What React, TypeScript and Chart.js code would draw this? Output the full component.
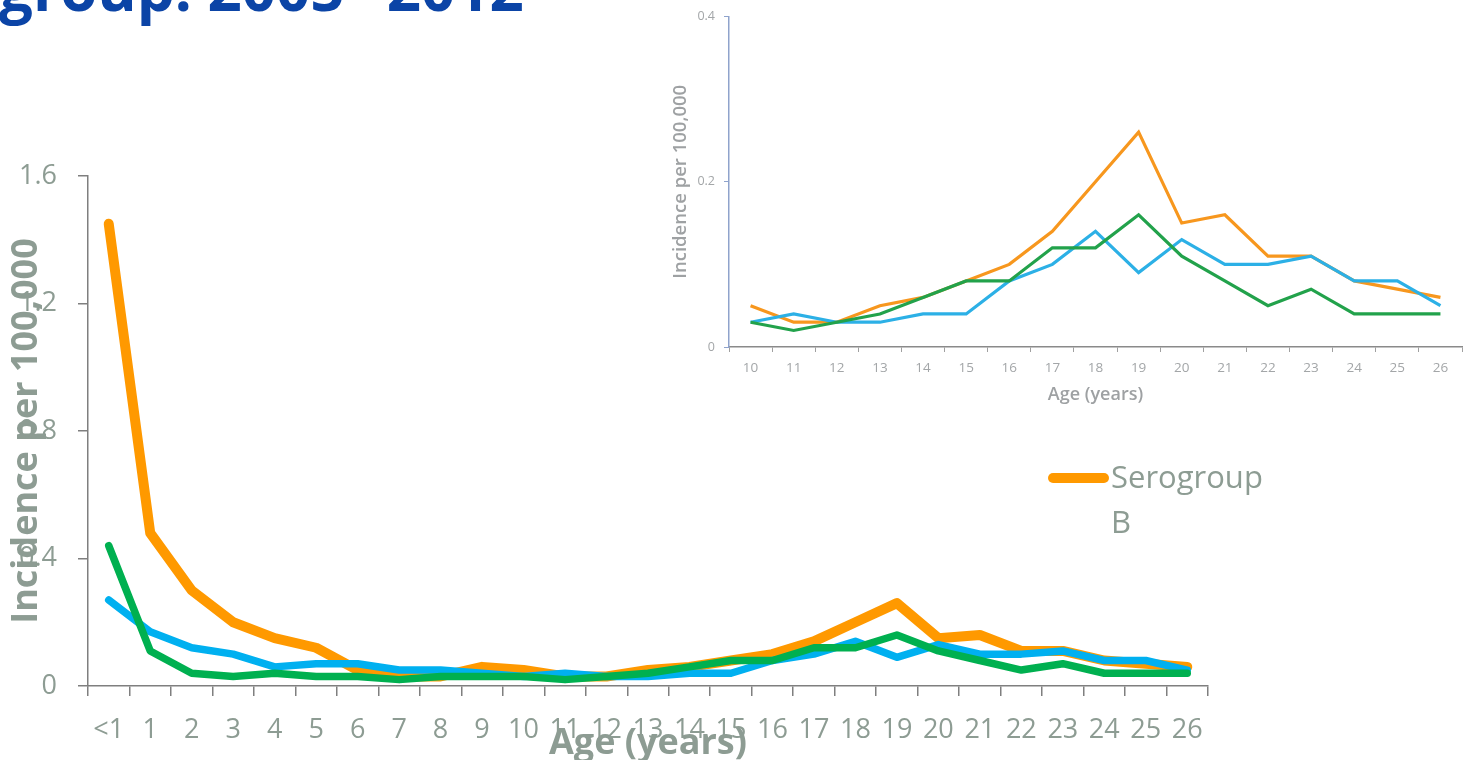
import React, { useEffect, useRef } from 'react';
import { Chart, registerables } from 'chart.js';

Chart.register(...registerables);

// ---------- data ----------
const ageLabels = ['<1', '1', '2', '3', '4', '5', '6', '7', '8', '9', '10', '11', '12', '13', '14', '15', '16', '17', '18', '19', '20', '21', '22', '23', '24', '25', '26'];
const serogroupB = [1.45, 0.48, 0.30, 0.20, 0.15, 0.12, 0.05, 0.03, 0.03, 0.06, 0.05, 0.03, 0.03, 0.05, 0.06, 0.08, 0.10, 0.14, 0.20, 0.26, 0.15, 0.16, 0.11, 0.11, 0.08, 0.07, 0.06];
const serogroupC = [0.27, 0.17, 0.12, 0.10, 0.06, 0.07, 0.07, 0.05, 0.05, 0.04, 0.03, 0.04, 0.03, 0.03, 0.04, 0.04, 0.08, 0.10, 0.14, 0.09, 0.13, 0.10, 0.10, 0.11, 0.08, 0.08, 0.05];
const serogroupY = [0.44, 0.11, 0.04, 0.03, 0.04, 0.03, 0.03, 0.02, 0.03, 0.03, 0.03, 0.02, 0.03, 0.04, 0.06, 0.08, 0.08, 0.12, 0.12, 0.16, 0.11, 0.08, 0.05, 0.07, 0.04, 0.04, 0.04];
const seriesNames = ['Serogroup B', 'Serogroup C', 'Serogroup Y'];
const mainYTicks = [0, 0.4, 0.8, 1.2, 1.6];
const insetStartIndex = 10; // inset shows ages 10..26
const insetYTicks = [0, 0.2, 0.4];
const titleStart = 'group: 2005';
const titleEnd = '2012';
const yTitleText = 'Incidence per 100,000';
const xTitleText = 'Age (years)';
const legendText = 'Serogroup B';

// ---------- styles ----------
const GRAY_TEXT = '#8D9C93';
const AXIS = '#7F7F7F';
const INSET_TEXT = '#A3A6A8';
const FONT = 'Open Sans';

const fmt = (v: number) => (v === 0 ? '0' : Number(v).toFixed(1));

export default function App() {
  const mainRef = useRef<HTMLCanvasElement>(null);
  const insetRef = useRef<HTMLCanvasElement>(null);

  useEffect(() => {
    const main = new Chart(mainRef.current as HTMLCanvasElement, {
      type: 'line',
      data: {
        labels: ageLabels,
        datasets: [
          { label: seriesNames[0], data: serogroupB, borderColor: '#FF9900', borderWidth: 10, order: 2 },
          { label: seriesNames[1], data: serogroupC, borderColor: '#00B0F0', borderWidth: 7.5, order: 1 },
          { label: seriesNames[2], data: serogroupY, borderColor: '#00B050', borderWidth: 7.5, order: 0 },
        ].map((d) => ({ ...d, pointRadius: 0, tension: 0, fill: false, borderCapStyle: 'round', borderJoinStyle: 'round' })) as any,
      },
      options: {
        responsive: false,
        animation: false,
        devicePixelRatio: 1,
        layout: { padding: { top: 176, left: 0, right: 258, bottom: 0 } },
        plugins: { legend: { display: false }, tooltip: { enabled: false } },
        scales: {
          x: {
            type: 'category',
            offset: true,
            grid: { display: true, drawOnChartArea: false, drawTicks: true, tickLength: 10, color: AXIS, lineWidth: 1.5, offset: true },
            border: { display: true, color: AXIS, width: 1.5 },
            ticks: { color: GRAY_TEXT, font: { family: FONT, size: 27 }, padding: 18, maxRotation: 0, autoSkip: false },
            title: { display: true, text: xTitleText, color: GRAY_TEXT, font: { family: FONT, size: 36, weight: 'bold', lineHeight: 0.9 }, padding: 0 },
            afterFit: (s: any) => { s.height = 74; },
          },
          y: {
            min: 0,
            max: 1.6,
            afterBuildTicks: (s: any) => { s.ticks = mainYTicks.map((v) => ({ value: v })); },
            grid: { display: true, drawOnChartArea: false, drawTicks: true, tickLength: 10, color: AXIS, lineWidth: 1.5 },
            border: { display: true, color: AXIS, width: 1.5 },
            ticks: { color: GRAY_TEXT, font: { family: FONT, size: 27 }, padding: 21, callback: (v: any) => fmt(Number(v)) },
            title: { display: true, text: yTitleText, color: GRAY_TEXT, font: { family: FONT, size: 36, weight: 'bold' }, padding: { top: 5, bottom: 0 } },
            afterFit: (s: any) => { s.width = 88; },
          },
        },
      } as any,
    });

    const insetLabels = ageLabels.slice(insetStartIndex);
    const inset = new Chart(insetRef.current as HTMLCanvasElement, {
      type: 'line',
      data: {
        labels: insetLabels,
        datasets: [
          { label: seriesNames[0], data: serogroupB.slice(insetStartIndex), borderColor: '#F7971E', order: 2 },
          { label: seriesNames[1], data: serogroupC.slice(insetStartIndex), borderColor: '#2CB0E6', order: 1 },
          { label: seriesNames[2], data: serogroupY.slice(insetStartIndex), borderColor: '#22A24B', order: 0 },
        ].map((d) => ({ ...d, borderWidth: 3.2, pointRadius: 0, tension: 0, fill: false })) as any,
      },
      options: {
        responsive: false,
        animation: false,
        devicePixelRatio: 1,
        layout: { padding: { top: 12, left: 0, right: 4, bottom: 0 } },
        plugins: { legend: { display: false }, tooltip: { enabled: false } },
        scales: {
          x: {
            type: 'category',
            offset: true,
            grid: { display: true, drawOnChartArea: false, drawTicks: true, tickLength: 5, color: '#A0A0A0', lineWidth: 1, offset: true },
            border: { display: true, color: '#8A8A8A', width: 1.5 },
            ticks: { color: INSET_TEXT, font: { family: FONT, size: 13.5 }, padding: 8, maxRotation: 0, autoSkip: false },
            title: { display: true, text: xTitleText, color: '#9EA1A3', font: { family: FONT, size: 18, weight: '600' }, padding: { top: 0, bottom: 14 } },
            afterFit: (s: any) => { s.height = 73; },
          },
          y: {
            min: 0,
            max: 0.4,
            afterBuildTicks: (s: any) => { s.ticks = insetYTicks.map((v) => ({ value: v })); },
            grid: { display: true, drawOnChartArea: false, drawTicks: true, tickLength: 5, color: '#8FA3CC', lineWidth: 1 },
            border: { display: true, color: '#8FA3CC', width: 1.5 },
            ticks: { color: INSET_TEXT, font: { family: FONT, size: 12.5 }, padding: 9, callback: (v: any) => fmt(Number(v)) },
            title: { display: true, text: yTitleText, color: '#9EA1A3', font: { family: FONT, size: 18.5, weight: '600' }, padding: { top: 10, bottom: 0 } },
            afterFit: (s: any) => { s.width = 69; },
          },
        },
      } as any,
    });

    return () => {
      main.destroy();
      inset.destroy();
    };
  }, []);

  return (
    <div style={{ position: 'fixed', left: 0, top: 0, width: 1466, height: 760, overflow: 'hidden', background: '#ffffff' }}>
      <div
        style={{
          position: 'absolute', left: -1, top: -42, fontFamily: FONT, fontWeight: 'bold', fontSize: 60,
          lineHeight: '60px', color: '#0B44A6', whiteSpace: 'nowrap',
        }}
      >
        {titleStart}
        <span style={{ margin: '0 6px' }}>–</span>
        {titleEnd}
      </div>
      <canvas ref={insetRef} width={806} height={420} style={{ position: 'absolute', left: 660, top: 0, width: 806, height: 420 }} />
      <canvas ref={mainRef} width={1466} height={760} style={{ position: 'absolute', left: 0, top: 0, width: 1466, height: 760 }} />
      <div style={{ position: 'absolute', left: 1048, top: 473, width: 61, height: 10, borderRadius: 5, background: '#FF9900' }} />
      <div
        style={{
          position: 'absolute', left: 1111, top: 454, width: 170, fontFamily: FONT, fontSize: 31,
          lineHeight: '45px', color: GRAY_TEXT,
        }}
      >
        {legendText}
      </div>
    </div>
  );
}
